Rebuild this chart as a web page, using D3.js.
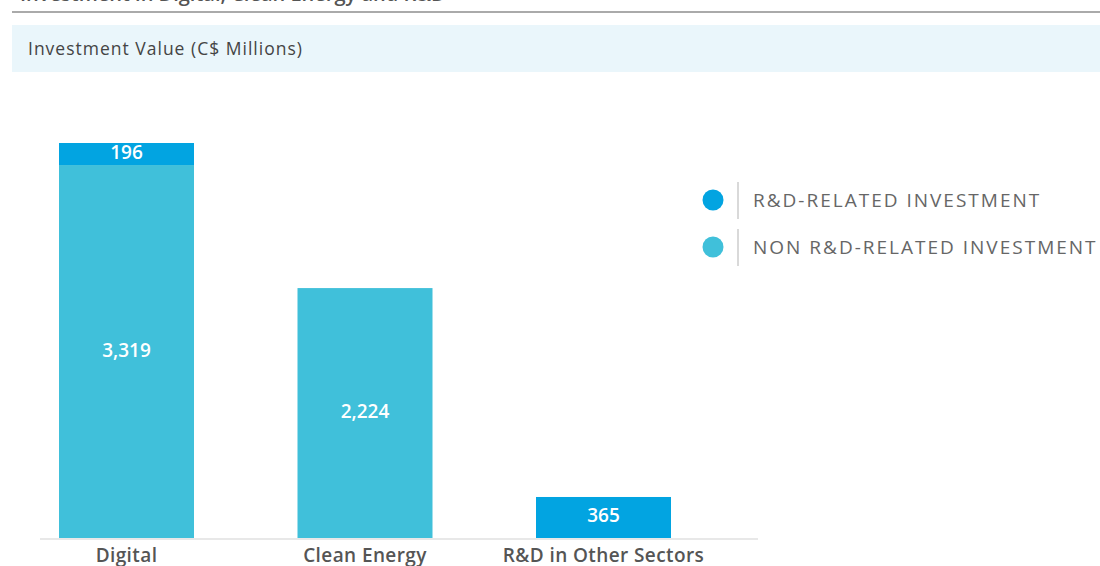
<!DOCTYPE html>
<html><head><meta charset="utf-8">
<script src="https://cdn.jsdelivr.net/npm/d3@7"></script>
<style>body{margin:0;background:#fff;font-family:"Open Sans",Lato,sans-serif;}</style>
</head><body><svg id="c" width="1100" height="566"></svg>
<script>
const categories = ["Digital", "Clean Energy", "R&D in Other Sectors"];
const nonRD = [3319, 2224, 0];
const rd = [196, 0, 365];
const seriesNames = ["R&D-RELATED INVESTMENT", "NON R&D-RELATED INVESTMENT"];
const colors = {rd: "#02a4e1", non: "#40c0da"};
const ff = "'Open Sans', Lato, sans-serif";

const svg = d3.select("#c").style("font-family", ff);
svg.append("text").attr("x", 20).attr("y", 1).attr("font-size", 20).attr("font-weight", 600).attr("fill", "#555").text("Investment in Digital, Clean Energy and R&D");
svg.append("line").attr("x1", 12).attr("x2", 1100).attr("y1", 12).attr("y2", 12).attr("stroke", "#aaa").attr("stroke-width", 2);
svg.append("rect").attr("x", 12).attr("y", 25).attr("width", 1088).attr("height", 47).attr("fill", "#eaf6fb");
svg.append("text").attr("x", 28).attr("y", 55).attr("font-size", 17.5).attr("letter-spacing", 1).attr("fill", "#444").text("Investment Value (C$ Millions)");

const y = d3.scaleLinear().domain([0, 3515]).range([538, 143]);
const data = categories.map((c, i) => ({c, non: nonRD[i], rd: rd[i]}));
const stack = d3.stack().keys(["non", "rd"])(data);

const bw = 135;
const xc = d3.scalePoint().domain(categories).range([126.5, 603.5]);

stack.forEach(layer => {
  const key = layer.key;
  layer.forEach((d, i) => {
    const v = d[1] - d[0];
    if (v <= 0) return;
    svg.append("rect").attr("x", xc(categories[i]) - bw / 2).attr("width", bw)
      .attr("y", y(d[1])).attr("height", y(d[0]) - y(d[1])).attr("fill", colors[key]);
    svg.append("text").attr("x", xc(categories[i])).attr("y", (y(d[0]) + y(d[1])) / 2 + 5)
      .attr("text-anchor", "middle").attr("font-size", 19).attr("font-weight", 600)
      .attr("fill", "#fff").text(d3.format(",")(v));
  });
});

svg.append("line").attr("x1", 40).attr("x2", 758).attr("y1", 539).attr("y2", 539).attr("stroke", "#e8e8e8").attr("stroke-width", 2);
categories.forEach(c => {
  svg.append("text").attr("x", xc(c)).attr("y", 562).attr("text-anchor", "middle")
    .attr("font-size", 19).attr("font-weight", 600).attr("letter-spacing", 0.4).attr("fill", "#555").text(c);
});

const lg = [{n: seriesNames[0], col: colors.rd, y: 200}, {n: seriesNames[1], col: colors.non, y: 247}];
lg.forEach(l => {
  svg.append("circle").attr("cx", 713).attr("cy", l.y).attr("r", 10.5).attr("fill", l.col);
  svg.append("line").attr("x1", 738).attr("x2", 738).attr("y1", l.y - 18).attr("y2", l.y + 19).attr("stroke", "#ccc").attr("stroke-width", 1.5);
  svg.append("text").attr("x", 753).attr("y", l.y + 7).attr("font-size", 19).attr("letter-spacing", 2)
    .attr("fill", "#666").text(l.n);
});
</script></body></html>
